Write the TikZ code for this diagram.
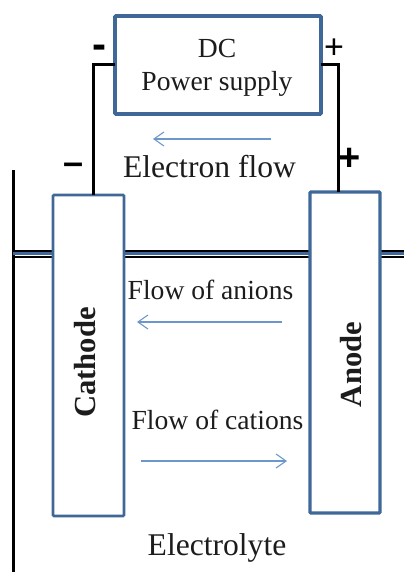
\documentclass[tikz,border=0pt]{standalone}
\usepackage{fontspec}
\setmainfont{Liberation Serif}
\newfontfamily\signfont{Liberation Sans}
\usetikzlibrary{arrows.meta}
\definecolor{boxblue}{HTML}{3F6797}
\definecolor{flowblue}{HTML}{6B97CC}
\definecolor{ink}{HTML}{1C1C1C}
\newcommand{\fsz}[1]{\fontsize{#1}{#1}\selectfont}
\tikzset{
  x=1pt,y=-1pt,
  boxed/.style={draw=boxblue,line width=3.3pt,fill=white,rectangle,rounded corners=1pt,outer sep=0pt,inner sep=0pt},
  wire/.style={draw=black,line width=3pt,line join=miter},
  flow/.style={draw=flowblue,line width=1.1pt,-{Straight Barb[length=10pt,width=14pt,line width=1.1pt]}},
  label/.style={text=ink,anchor=base,inner sep=0pt,font=\fsz{27.6}},
  biglabel/.style={text=ink,anchor=base,inner sep=0pt,font=\fsz{31.6}},
  elabel/.style={text=ink,inner sep=0pt,rotate=90,font=\fsz{30.6}\bfseries},
  sign/.style={inner sep=0pt,text=black}
}
\begin{document}
\begin{tikzpicture}
\useasboundingbox (0,0) rectangle (404,572);
% electrolyte surface and tank wall
\coordinate (wallT) at (13,170);
\coordinate (wallB) at (13,572);
\coordinate (surfL) at (13,253.7);
\coordinate (surfR) at (404,253.7);
\draw[black,line width=3pt] (wallT) -- (wallB);
\draw[black,line width=2pt] ([yshift=2.9pt]surfL) -- ([yshift=2.9pt]surfR);
\draw[black,line width=2pt] ([yshift=-2.9pt]surfL) -- ([yshift=-2.9pt]surfR);
\draw[boxblue,line width=3.4pt] (surfL) -- (surfR);
% boxes
\node[boxed,line width=3.6pt,minimum width=206pt,minimum height=98pt] (supply) at (218,65) {};
\node[boxed,line width=2.8pt,minimum width=71pt,minimum height=321pt] (cathode) at (88.5,355.5) {};
\node[boxed,minimum width=70pt,minimum height=321pt] (anode) at (345,352.5) {};
% wires
\draw[wire] (supply.west) -| ([xshift=4.5pt]cathode.north);
\draw[wire] (supply.east) -| ([xshift=-7pt]anode.north);
% text
\node[label] (dc) at (217,58) {DC};
\node[label] (ps) at (217,91) {Power supply};
\node[biglabel] (ef) at (209.5,177.5) {Electron flow};
\node[label] (fa) at (210.5,299) {Flow of anions};
\node[label] (fc) at (217.5,429) {Flow of cations};
\node[biglabel] (el) at (217,555) {Electrolyte};
\node[elabel] (cl) at (85,362.5) {Cathode};
\node[elabel] (al) at (351,364.5) {Anode};
% signs
\node[sign,font=\signfont\fsz{42}\bfseries] (m1) at (99,52) {-};
\node[sign,font=\signfont\fsz{36}\bfseries] (m2) at (74,169) {–};
\node[sign,font=\signfont\fsz{34}] (p1) at (334,49) {+};
\node[sign,font=\signfont\fsz{38}\bfseries] (p2) at (350,159.5) {+};
% flow arrows
\coordinate (e1) at (271,139); \coordinate (e2) at (153,139);
\coordinate (a1) at (282,322); \coordinate (a2) at (137,322);
\coordinate (c1) at (141,461); \coordinate (c2) at (287,461);
\draw[flow] (e1) -- (e2);
\draw[flow] (a1) -- (a2);
\draw[flow] (c1) -- (c2);
\end{tikzpicture}
\end{document}
